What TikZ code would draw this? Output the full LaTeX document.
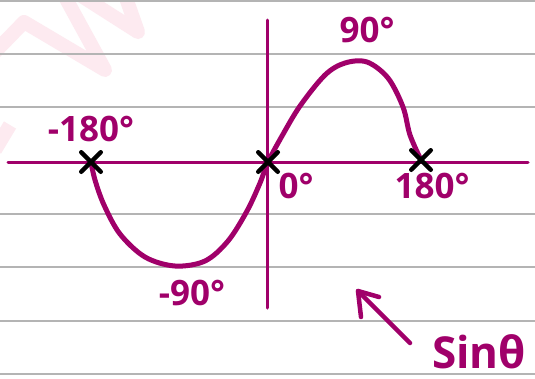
\documentclass[tikz,border=0pt]{standalone}
\usepackage{fontspec}
\setmainfont{Open Sans}
\usetikzlibrary{shapes.misc}
\definecolor{plum}{HTML}{A0006A}
\definecolor{rulegrey}{HTML}{B4B4B4}
\definecolor{wmpink}{HTML}{FDEAF0}
\begin{document}
\begin{tikzpicture}[x=1pt,y=-1pt, line cap=round, line join=round,
  lbl/.style={text=plum, font=\fontsize{35}{35}\selectfont\bfseries, inner sep=0pt},
  xmark/.style={cross out, draw=black, line width=4.5pt, minimum size=15pt, inner sep=0pt},
  ruleline/.style={rulegrey, line width=1.5pt},
  axis/.style={plum, line width=3pt},
  curve/.style={plum, line width=5pt}]
\useasboundingbox (0,0) rectangle (535,378);
\clip (0,0) rectangle (535,378);
\fill[white] (0,0) rectangle (535,378);
% watermark
\draw[wmpink, line width=14pt, line cap=butt] (-5,52) -- (24,22) -- (105,70) -- (64,-5);
\draw[wmpink, line width=14pt, line cap=butt] (80,-5) -- (138,32) -- (125,-5);
\draw[wmpink, line width=14pt, line cap=butt] (-5,150) -- (10,125);
% ruled lines
\foreach \y in {1,54,107,214,267,321,374} \draw[ruleline] (0,\y) -- (535,\y);
% axes
\coordinate (xl) at (8,162);
\coordinate (xr) at (528,162);
\coordinate (yt) at (267,20);
\coordinate (yb) at (267,308);
\draw[axis] (xl) -- (xr);
\draw[axis] (yt) -- (yb);
% sine curve
\draw[curve] plot[smooth, tension=0.55] coordinates {(91,162) (95,180) (104,205) (120,234) (145,257) (175,266) (205,261) (228,241) (247,211) (260,183) (268,162) (282,136) (300,106) (325,75) (345,63) (367,62) (388,78) (403,107) (410,135) (421,160)};
% crosses
\node[xmark] (m1) at (91,162) {};
\node[xmark] (m0) at (268,162) {};
\node[xmark] (p1) at (421,160) {};
% labels
\node[lbl] (lm180) at (91,129) {-180°};
\node[lbl] (l90) at (367,30) {90°};
\node[lbl] (l0) at (296,186) {0°};
\node[lbl] (l180) at (432,186) {180°};
\node[lbl] (lm90) at (192,293) {-90°};
\node[text=plum, font=\fontsize{44}{44}\selectfont\bfseries, inner sep=0pt, anchor=base west] (sine) at (432,368) {Sinθ};
% arrow
\coordinate (atail) at (410,343);
\coordinate (atip) at (358,291);
\coordinate (ab1) at (361,317);
\coordinate (ab2) at (379,297);
\draw[plum, line width=4.5pt] (atail) -- (atip);
\draw[plum, line width=4.5pt] (ab1) -- (atip) -- (ab2);
\end{tikzpicture}
\end{document}
